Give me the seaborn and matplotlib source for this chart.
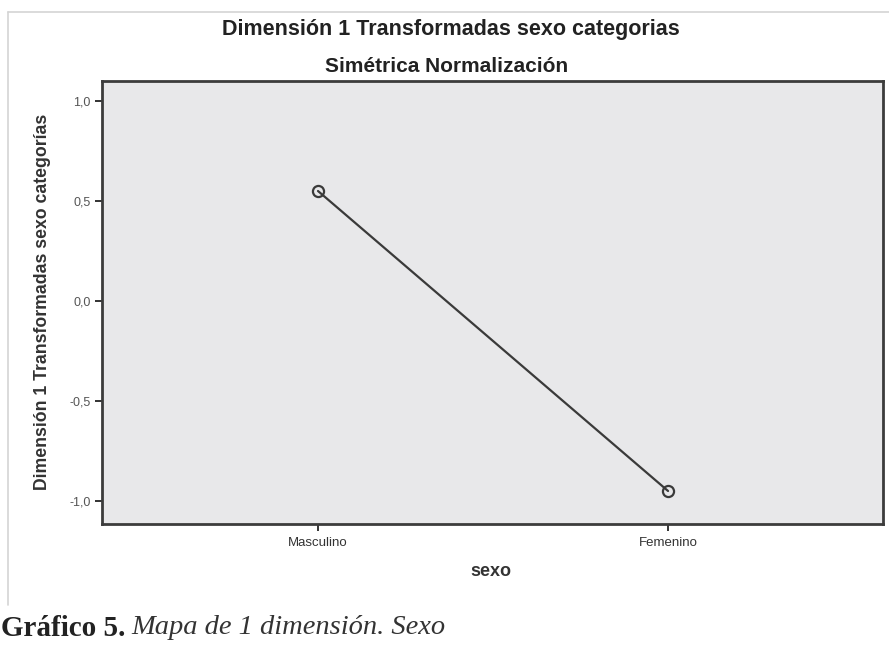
import matplotlib
matplotlib.use("Agg")
import matplotlib.pyplot as plt
import seaborn as sns
import pandas as pd
from matplotlib.lines import Line2D

categories = ["Masculino", "Femenino"]
values = [0.55, -0.95]
yticks = [-1.0, -0.5, 0.0, 0.5, 1.0]
ytick_labels = ["-1,0", "-0,5", "0,0", "0,5", "1,0"]

title1 = "Dimensión 1 Transformadas sexo categorias"
title2 = "Simétrica Normalización"
ylabel = "Dimensión 1 Transformadas sexo categorías"
xlabel = "sexo"

sns.set_theme(style="white")
plt.rcParams['font.family'] = ['Liberation Sans', 'DejaVu Sans']

W, H = 889, 649
fig = plt.figure(figsize=(W / 100, H / 100), dpi=100)
fig.patch.set_facecolor("white")

# outer light frame
fig.add_artist(Line2D([8 / W, 8 / W], [1 - 12 / H, 1 - 605 / H], color="#d4d4d4", lw=1.2))
fig.add_artist(Line2D([8 / W, 1.0], [1 - 12 / H, 1 - 12 / H], color="#d4d4d4", lw=1.2))

ax = fig.add_axes([102 / W, 1 - 524 / H, 781 / W, 443 / H])
ax.set_facecolor("#e8e8ea")

df = pd.DataFrame({"sexo": categories, "dim": values})
sns.lineplot(data=df, x="sexo", y="dim", sort=False, ax=ax, color="#3a3a3a",
             lw=1.6, marker="o", markersize=8, markerfacecolor="none",
             markeredgecolor="#3a3a3a", markeredgewidth=1.6)

ax.set_xlim(-0.617, 1.614)
ax.set_ylim(-1.115, 1.10)
ax.set_yticks(yticks)
ax.set_yticklabels(ytick_labels, fontsize=9, color="#555555")
ax.set_xticks([0, 1])
ax.set_xticklabels(categories, fontsize=9.5, color="#333333")
ax.tick_params(axis="both", direction="out", length=5, width=1.4, color="#333333",
               bottom=True, left=True, pad=3)
ax.tick_params(axis="x", pad=4)
for s in ax.spines.values():
    s.set_color("#3c3c3c")
    s.set_linewidth(2)
    s.set_visible(True)

ax.set_xlabel("")
ax.set_ylabel("")

fig.text(451 / W, 1 - 30 / H, title1, ha="center", va="center", fontsize=15.5,
         fontweight="bold", color="#222222")
fig.text(447 / W, 1 - 67 / H, title2, ha="center", va="center", fontsize=15,
         fontweight="bold", color="#222222")
fig.text(491 / W, 1 - 571 / H, xlabel, ha="center", va="center", fontsize=13,
         fontweight="bold", color="#333333")
fig.text(43 / W, 1 - 302 / H, ylabel, ha="center", va="center", rotation=90,
         fontsize=12.7, fontweight="bold", color="#333333")

# caption
cap_y = 1 - 628 / H
t1 = fig.text(1 / W, cap_y, "Gráfico 5.", ha="left", va="center", fontsize=21,
              fontweight="bold", family=["Liberation Serif", "DejaVu Serif"], color="#222222")
fig.canvas.draw()
bb = t1.get_window_extent()
fig.text(bb.x1 / W + 6 / W, cap_y, "Mapa de 1 dimensión. Sexo", ha="left", va="center",
         fontsize=20.5, style="italic", family=["Liberation Serif", "DejaVu Serif"], color="#333333")

fig.savefig("out.png", dpi=100)
